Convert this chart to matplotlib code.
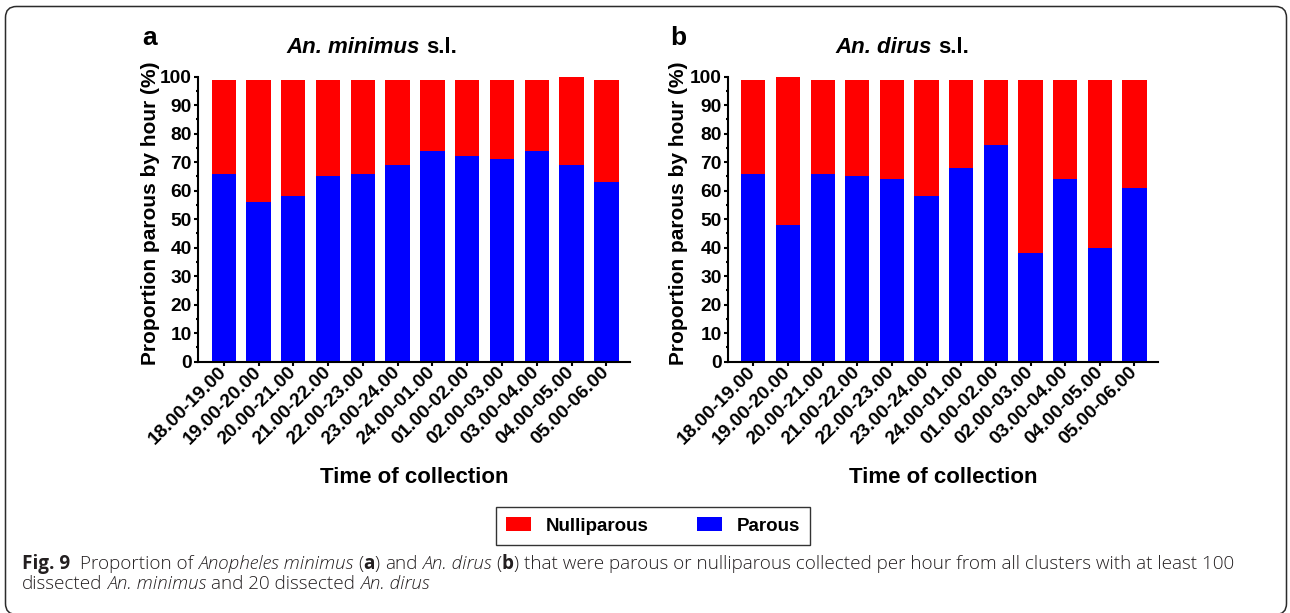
import matplotlib
matplotlib.use("Agg")
import matplotlib.pyplot as plt
import numpy as np
from matplotlib.patches import Patch, FancyBboxPatch
from matplotlib.ticker import MultipleLocator
from matplotlib.transforms import IdentityTransform

# ---- data -------------------------------------------------------------
hours = ["18.00-19.00", "19.00-20.00", "20.00-21.00", "21.00-22.00",
         "22.00-23.00", "23.00-24.00", "24.00-01.00", "01.00-02.00",
         "02.00-03.00", "03.00-04.00", "04.00-05.00", "05.00-06.00"]

parous_minimus = [66, 56, 58, 65, 66, 69, 74, 72, 71, 74, 69, 63]
nulliparous_minimus = [33, 43, 41, 34, 33, 30, 25, 27, 28, 25, 31, 36]

parous_dirus = [66, 48, 66, 65, 64, 58, 68, 76, 38, 64, 40, 61]
nulliparous_dirus = [33, 52, 33, 34, 35, 41, 31, 23, 61, 35, 59, 38]

species = ["minimus", "dirus"]
panel_letters = ["a", "b"]

# ---- figure -----------------------------------------------------------
W, H = 1290, 613
plt.rcParams["font.family"] = ["Liberation Sans", "DejaVu Sans"]
fig = plt.figure(figsize=(W / 100, H / 100), dpi=100)
fig.patch.set_facecolor("white")
renderer = fig.canvas.get_renderer()


def fx(px):
    return px / W


def fy(py):
    return 1 - py / H


RED = "#FF0000"
BLUE = "#0000FF"

# rounded frame around the whole figure (bottom edge runs off the page)
frame = FancyBboxPatch((5.5, -1.5), 1281, 608,
                       boxstyle="round,pad=0,rounding_size=11",
                       transform=IdentityTransform(), fill=False,
                       ec="#2b2b2b", lw=1.1)
fig.add_artist(frame)


def measure(s, props):
    t = fig.text(0, 0, s, **props)
    w = t.get_window_extent(renderer).width
    t.remove()
    return w


def runs_width(runs):
    total = 0
    for s, p, gap in runs:
        if gap:
            total += gap * (measure("x x", p) - measure("xx", p))
        total += measure(s, p)
    return total


def place_runs(runs, x_px, base_px, align="left"):
    total = runs_width(runs)
    x = x_px - total / 2 if align == "center" else x_px
    for s, p, gap in runs:
        if gap:
            x += gap * (measure("x x", p) - measure("xx", p))
        fig.text(fx(x), fy(base_px), s, ha="left", va="baseline", **p)
        x += measure(s, p)


# ---- panels -----------------------------------------------------------
panels = [
    dict(left=198, right=630, parous=parous_minimus,
         nulli=nulliparous_minimus, title_x=372, letter_x=142,
         ylab_x=-0.088),
    dict(left=727.7, right=1158, parous=parous_dirus,
         nulli=nulliparous_dirus, title_x=902, letter_x=670,
         ylab_x=-0.092),
]
y_top, y_bot = 76.7, 361.7
x = np.arange(len(hours))

for sp, letter, pn in zip(species, panel_letters, panels):
    ax = fig.add_axes([fx(pn["left"]), fy(y_bot),
                       (pn["right"] - pn["left"]) / W, (y_bot - y_top) / H])
    ax.bar(x, pn["parous"], width=0.7, color=BLUE, linewidth=0,
           label="Parous")
    ax.bar(x, pn["nulli"], width=0.7, bottom=pn["parous"], color=RED,
           linewidth=0, label="Nulliparous")
    ax.set_xlim(-0.74, 11.68)
    ax.set_ylim(0, 100)
    ax.yaxis.set_major_locator(MultipleLocator(10))
    ax.yaxis.set_minor_locator(MultipleLocator(5))
    ax.set_xticks(x)
    ax.set_xticklabels(hours)
    for side in ("top", "right"):
        ax.spines[side].set_visible(False)
    for side in ("left", "bottom"):
        ax.spines[side].set_linewidth(1.5)
    ax.tick_params(axis="y", which="major", direction="out", length=3.2,
                   width=1.5, pad=1.2, labelsize=13.8)
    ax.tick_params(axis="y", which="minor", direction="out", length=1.8,
                   width=1.5)
    ax.tick_params(axis="x", which="major", direction="out", length=3.2,
                   width=1.5, pad=2.5, labelsize=13.8)
    for lab in ax.get_yticklabels():
        lab.set_fontweight("bold")
    for lab in ax.get_xticklabels():
        lab.set_fontweight("bold")
        lab.set_rotation(45)
        lab.set_ha("right")
        lab.set_va("center")
        lab.set_rotation_mode("anchor")

    ax.set_ylabel("Proportion parous by hour (%)", fontsize=15,
                  fontweight="bold")
    ax.yaxis.set_label_coords(pn["ylab_x"], 0.52)
    ax.set_xlabel("Time of collection", fontsize=16, fontweight="bold")
    ax.xaxis.label.set_va("baseline")
    ax.xaxis.set_label_coords(0.5, (y_bot - 483) / (y_bot - y_top))

    # panel title: italic species name followed by "s.l."
    place_runs([(f"An. {sp}", dict(fontsize=16, fontweight="bold",
                                   fontstyle="italic"), 0),
                ("s.l.", dict(fontsize=16, fontweight="bold"), 1)],
               pn["title_x"], 53, align="center")
    fig.text(fx(pn["letter_x"]), fy(45), letter, fontsize=19,
             fontweight="bold", ha="left", va="baseline")

# ---- shared legend ----------------------------------------------------
handles = [Patch(facecolor=RED, edgecolor="none", label="Nulliparous"),
           Patch(facecolor=BLUE, edgecolor="none", label="Parous")]
leg = fig.legend(handles=handles, loc="center",
                 bbox_to_anchor=(fx(653), fy(526)), ncol=2,
                 prop=dict(family="Liberation Sans", weight="bold",
                           size=13.5),
                 frameon=True, fancybox=False, edgecolor="black",
                 handlelength=1.35, handleheight=0.7, handletextpad=0.75,
                 columnspacing=2.6, borderpad=0.55)
leg.get_frame().set_linewidth(1.0)

# ---- caption ----------------------------------------------------------
cap_color = "#231f20"


def cap(size, weight="light", style="normal"):
    return dict(family=["Open Sans", "DejaVu Sans"], fontsize=size,
                fontweight=weight, fontstyle=style, color=cap_color)


def caption_lines(size):
    r = cap(size)
    b = cap(size, "bold")
    i = cap(size, style="italic")
    line1 = [("Fig. 9", b, 0), ("Proportion of", r, 2),
             ("Anopheles minimus", i, 1), ("(", r, 1), ("a", b, 0),
             (")", r, 0), ("and", r, 1), ("An. dirus", i, 1), ("(", r, 1),
             ("b", b, 0), (")", r, 0),
             ("that were parous or nulliparous collected per hour from all "
              "clusters with at least 100", r, 1)]
    line2 = [("dissected", r, 0), ("An. minimus", i, 1),
             ("and 20 dissected", r, 1), ("An. dirus", i, 1)]
    return line1, line2


base = 10.0
l1, _ = caption_lines(base)
size = base * (1238 - 22) / runs_width(l1)
l1, l2 = caption_lines(size)
place_runs(l1, 22, 569)
place_runs(l2, 22, 589)

fig.savefig("out.png", dpi=100, facecolor="white")
